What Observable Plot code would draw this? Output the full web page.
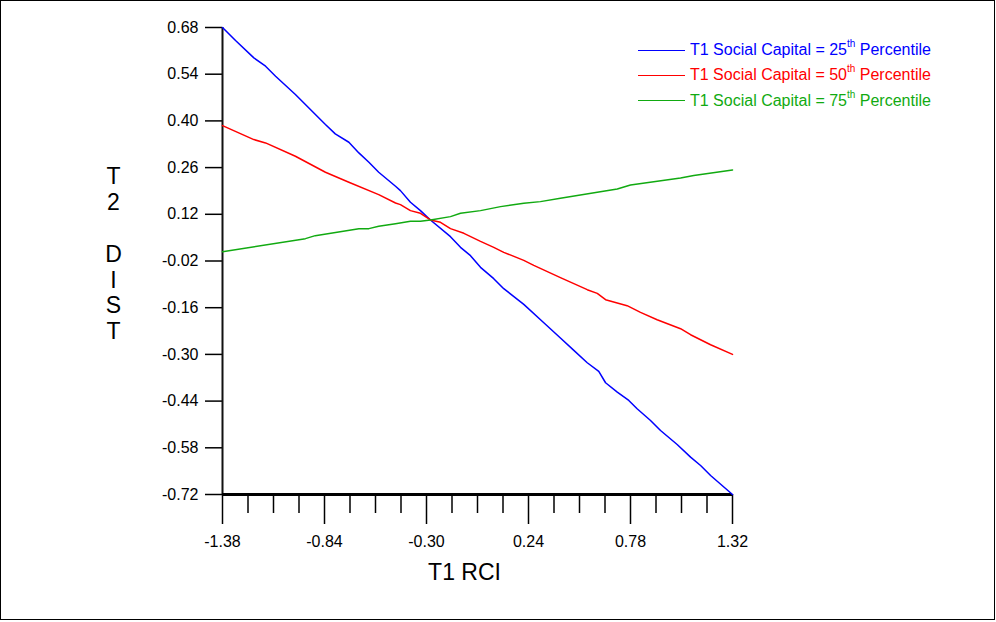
<!DOCTYPE html>
<html>
<head>
<meta charset="utf-8">
<script src="https://cdn.jsdelivr.net/npm/d3@7"></script>
<script src="https://cdn.jsdelivr.net/npm/@observablehq/plot@0.6"></script>
<style>
  body { margin: 0; background: white; }
  #wrap { position: relative; width: 996px; height: 622px; font-family: Arial, "Liberation Sans", sans-serif; }
  #legend { position: absolute; left: 638px; top: 37.5px; font-size: 16px; }
  .row { display: flex; align-items: center; height: 25.3px; white-space: nowrap; }
  .sw { display: inline-block; width: 47px; height: 0; border-top: 1.5px solid; margin-right: 5px; }
  .sup { font-size: 10px; position: relative; top: -8px; }
</style>
</head>
<body>
<div id="wrap"></div>
<script>
const seriesNames = ["T1 Social Capital = 25", "T1 Social Capital = 50", "T1 Social Capital = 75"];
const seriesColors = ["#0000ff", "#ff0000", "#11aa11"];

const blueX = [-1.38, -1.311, -1.214, -1.152, -1.099, -0.994, -0.835, -0.783, -0.711, -0.658, -0.605, -0.553, -0.464, -0.438, -0.385, -0.332, -0.279, -0.173, -0.120, -0.067, -0.014, 0.056, 0.109, 0.215, 0.321, 0.409, 0.480, 0.551, 0.612, 0.648, 0.710, 0.771, 0.815, 0.886, 0.939, 1.027, 1.098, 1.151, 1.204, 1.32];
const blueY = [0.68, 0.641, 0.589, 0.564, 0.534, 0.479, 0.389, 0.361, 0.336, 0.304, 0.276, 0.246, 0.204, 0.191, 0.156, 0.131, 0.103, 0.053, 0.021, -0.004, -0.039, -0.073, -0.103, -0.150, -0.205, -0.251, -0.288, -0.325, -0.351, -0.385, -0.413, -0.438, -0.463, -0.498, -0.528, -0.570, -0.608, -0.633, -0.663, -0.72];

const redX = [-1.38, -1.214, -1.152, -0.994, -0.835, -0.711, -0.553, -0.464, -0.438, -0.385, -0.332, -0.279, -0.226, -0.173, -0.102, -0.014, 0.056, 0.109, 0.215, 0.268, 0.409, 0.480, 0.551, 0.604, 0.648, 0.762, 0.833, 0.921, 1.045, 1.098, 1.204, 1.32];
const redY = [0.386, 0.344, 0.334, 0.294, 0.246, 0.216, 0.179, 0.154, 0.149, 0.131, 0.123, 0.103, 0.096, 0.077, 0.063, 0.039, 0.021, 0.006, -0.018, -0.033, -0.070, -0.088, -0.106, -0.117, -0.136, -0.154, -0.174, -0.196, -0.223, -0.241, -0.271, -0.300];

const greenX = [-1.38, -0.941, -0.889, -0.658, -0.605, -0.553, -0.464, -0.385, -0.332, -0.279, -0.173, -0.120, -0.014, 0.092, 0.215, 0.303, 0.409, 0.604, 0.710, 0.780, 1.045, 1.115, 1.32];
const greenY = [0.008, 0.047, 0.056, 0.077, 0.077, 0.084, 0.092, 0.099, 0.099, 0.103, 0.113, 0.123, 0.131, 0.143, 0.153, 0.158, 0.168, 0.186, 0.196, 0.208, 0.229, 0.236, 0.253];

const yTicks = [0.68, 0.54, 0.40, 0.26, 0.12, -0.02, -0.16, -0.30, -0.44, -0.58, -0.72];
const xMajor = [-1.38, -0.84, -0.30, 0.24, 0.78, 1.32];
const xMinor = [-1.245, -1.11, -0.975, -0.705, -0.57, -0.435, -0.165, -0.03, 0.105, 0.375, 0.51, 0.645, 0.915, 1.05, 1.185];

const toRows = (xs, ys) => xs.map((x, i) => ({x, y: ys[i]}));
const series = [toRows(blueX, blueY), toRows(redX, redY), toRows(greenX, greenY)];

const fmt = d => d.toFixed(2);

const plot = Plot.plot({
  width: 996,
  height: 622,
  marginLeft: 222,
  marginRight: 264,
  marginTop: 27,
  marginBottom: 128,
  x: {domain: [-1.38, 1.32]},
  y: {domain: [-0.72, 0.68]},
  style: {fontFamily: "Arial, 'Liberation Sans', sans-serif", fontSize: "16px", background: "white", color: "black", overflow: "visible"},
  marks: [
    Plot.axisY({ticks: yTicks, tickSize: 17, tickPadding: 7, tickFormat: fmt, label: null, fontSize: 16, strokeWidth: 1.5}),
    Plot.axisX({ticks: xMajor, tickSize: 30, tickPadding: 11, tickFormat: fmt, label: null, fontSize: 16, strokeWidth: 1.5}),
    Plot.axisX({ticks: xMinor, tickSize: 19, tickFormat: () => "", label: null, strokeWidth: 1.5}),
    Plot.ruleX([-1.38], {stroke: "#111", strokeWidth: 2}),
    Plot.ruleY([-0.72], {stroke: "black", strokeWidth: 3}),
    ...series.map((s, i) => Plot.line(s, {x: "x", y: "y", stroke: seriesColors[i], strokeWidth: 1.5})),
    Plot.text(["T\n2\n\nD\nI\nS\nT"], {frameAnchor: "left", dx: -109, dy: -7.5, fontSize: 23, lineHeight: 1.12, textAnchor: "middle"}),
    Plot.text(["T1 RCI"], {frameAnchor: "bottom", dx: -13, dy: 85.5, fontSize: 23, textAnchor: "middle"})
  ]
});

d3.select(plot).append("rect")
  .attr("x", 0.5).attr("y", 0.5).attr("width", 994).attr("height", 619)
  .attr("fill", "none").attr("stroke", "black").attr("stroke-width", 1);

const wrap = document.getElementById("wrap");
wrap.appendChild(plot);

const legend = document.createElement("div");
legend.id = "legend";
seriesNames.forEach((name, i) => {
  const row = document.createElement("div");
  row.className = "row";
  row.style.color = seriesColors[i];
  row.innerHTML = `<span class="sw" style="border-color:${seriesColors[i]}"></span><span>${name}<span class="sup">th</span> Percentile</span>`;
  legend.appendChild(row);
});
wrap.appendChild(legend);
</script>
</body>
</html>
